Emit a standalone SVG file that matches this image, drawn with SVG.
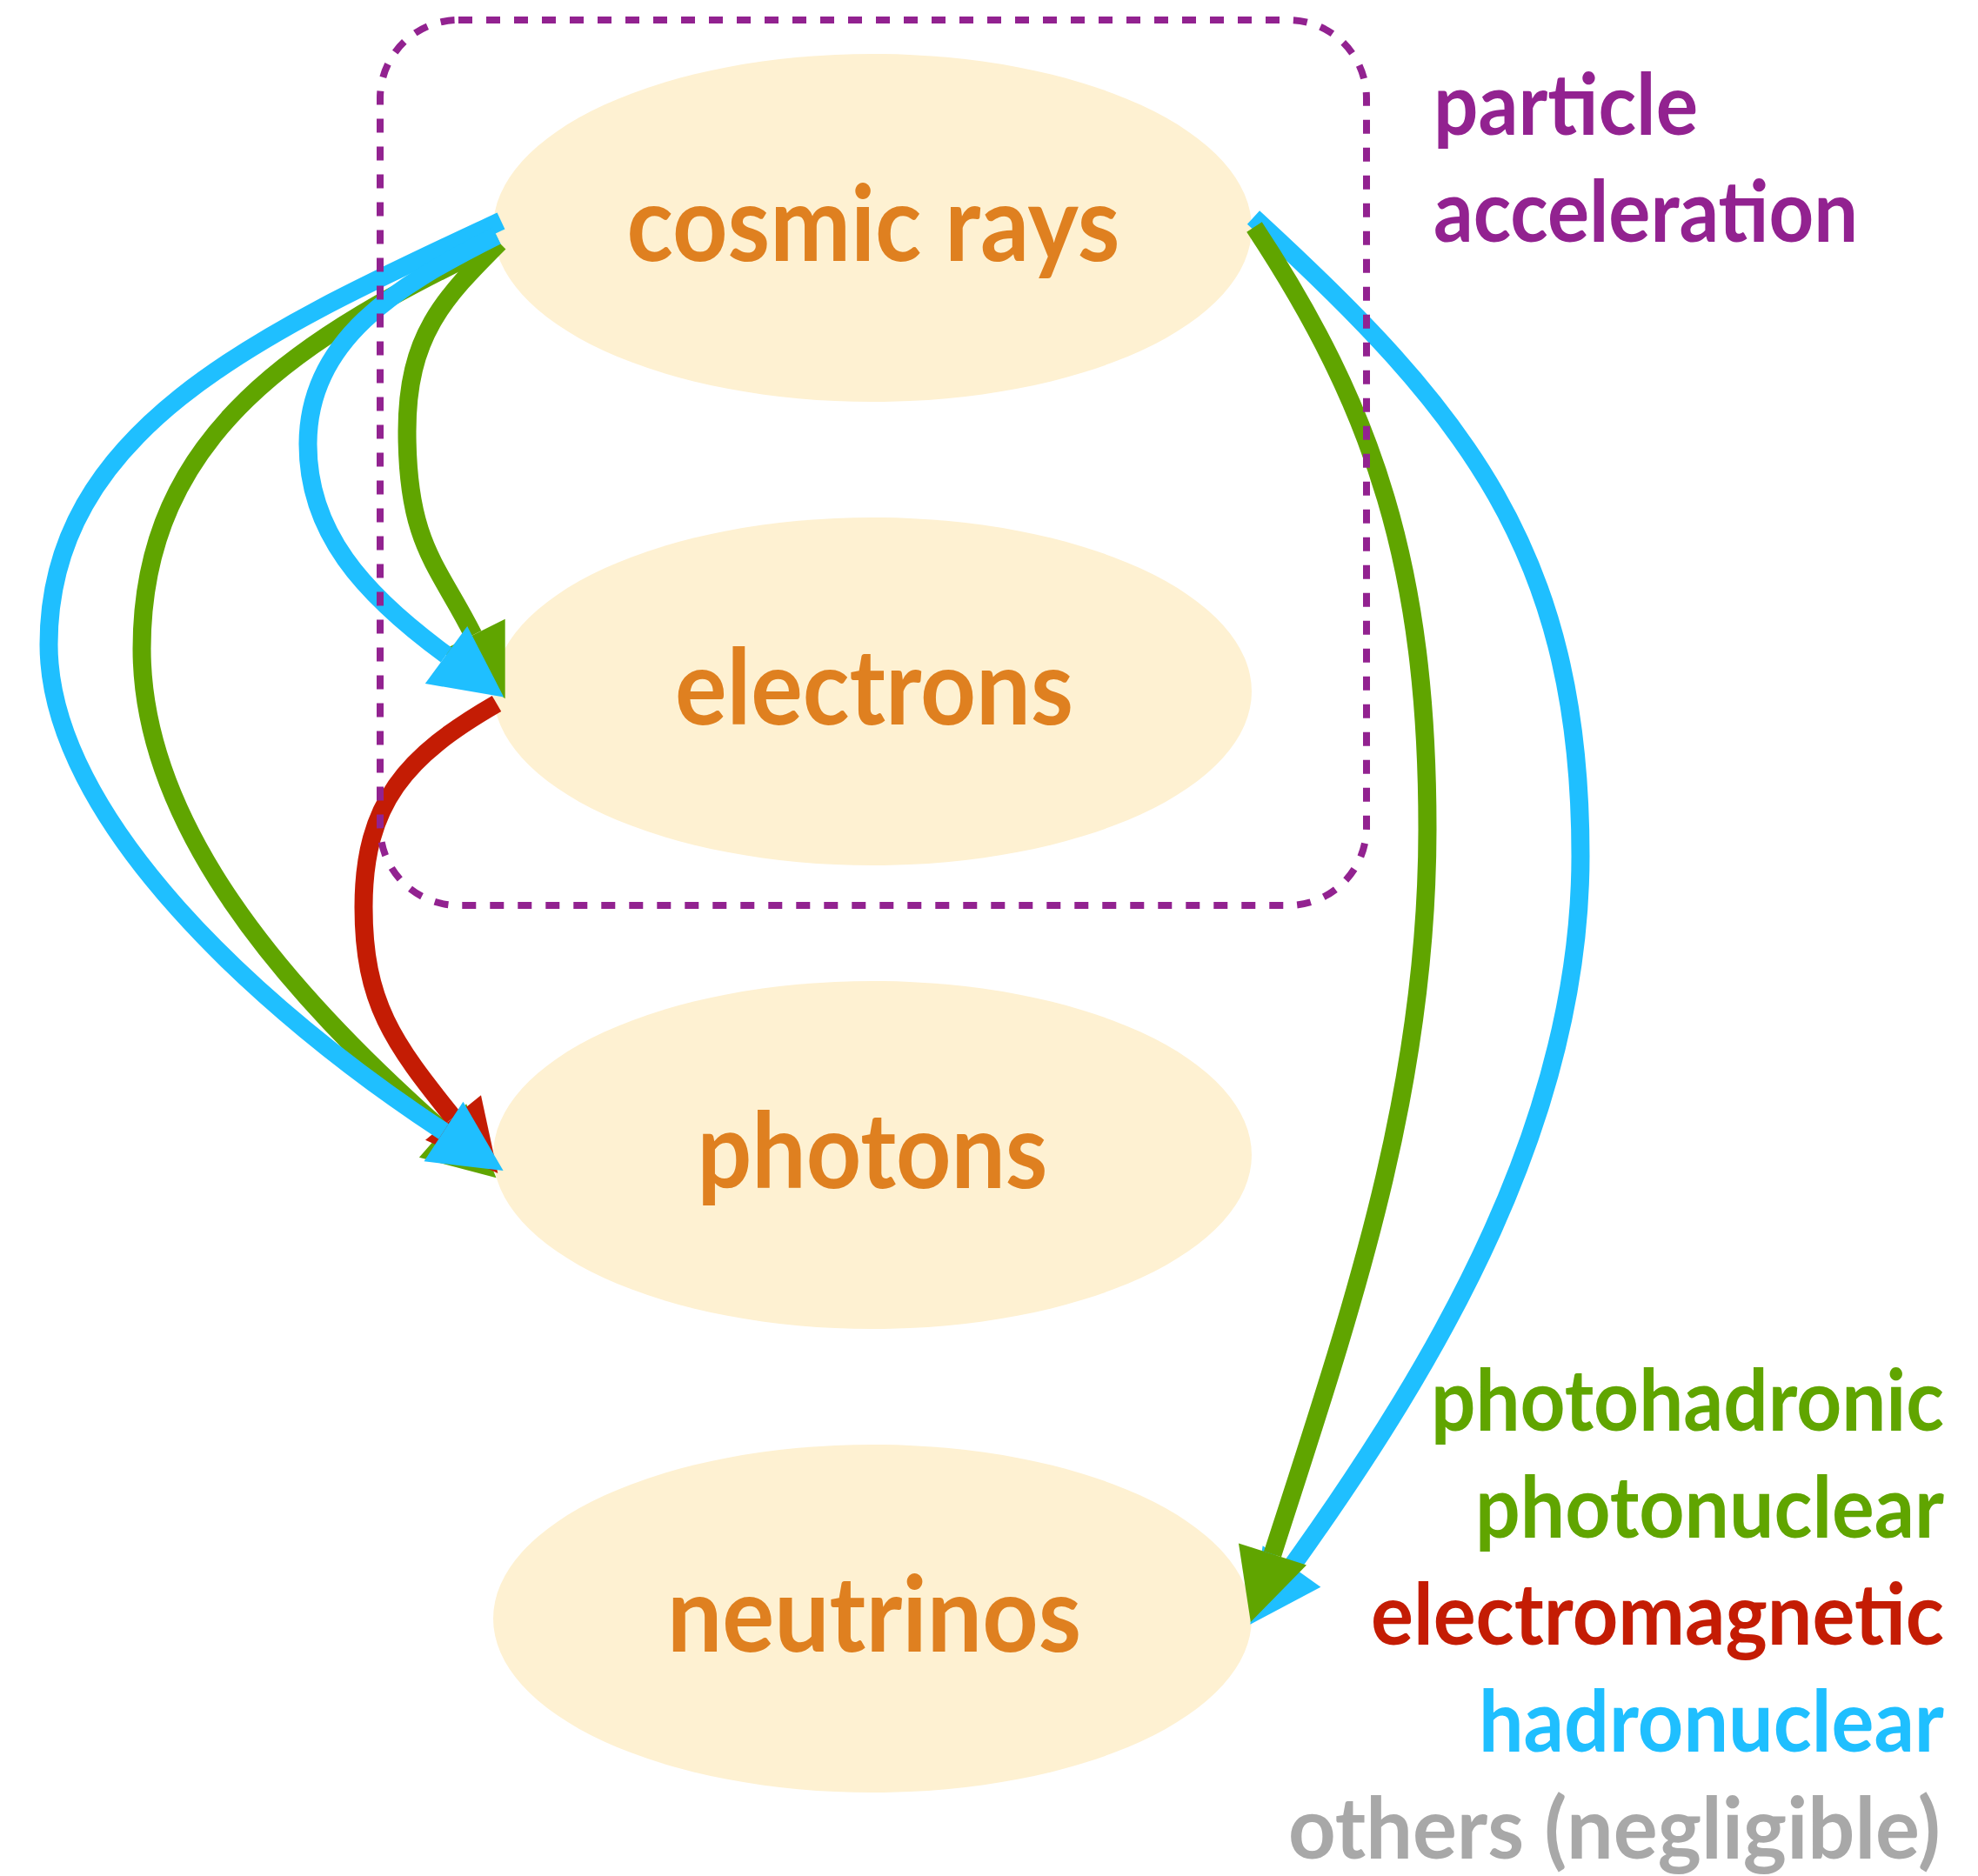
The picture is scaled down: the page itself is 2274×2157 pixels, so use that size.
<svg xmlns="http://www.w3.org/2000/svg" width="2274" height="2157" viewBox="0 0 2274 2157">
<style>
.node ellipse{fill:#FEF1D2}
.node text{font-family:Lato,"Liberation Sans",sans-serif;font-weight:700;font-size:120px;fill:#DF8020;text-anchor:middle}
.edge{fill:none;stroke-width:21;stroke-linecap:butt}
.g{stroke:#60A500}.b{stroke:#1FBFFF}.r{stroke:#C41C04}
.leg{font-family:Lato,"Liberation Sans",sans-serif;font-weight:700;font-size:97px}
</style>
<defs>
<marker id="ag" markerUnits="userSpaceOnUse" markerWidth="82" markerHeight="82" refX="0" refY="41" orient="auto" overflow="visible"><path d="M0,0 L82,41 L0,82 z" fill="#60A500"/></marker>
<marker id="ab" markerUnits="userSpaceOnUse" markerWidth="82" markerHeight="82" refX="0" refY="41" orient="auto" overflow="visible"><path d="M0,0 L82,41 L0,82 z" fill="#1FBFFF"/></marker>
<marker id="ar" markerUnits="userSpaceOnUse" markerWidth="82" markerHeight="82" refX="0" refY="41" orient="auto" overflow="visible"><path d="M0,0 L82,41 L0,82 z" fill="#C41C04"/></marker>
</defs>
<rect width="2274" height="2157" fill="#ffffff"/>
<g id="cosmic-rays" class="node"><ellipse cx="1003" cy="262" rx="436" ry="200"/><text x="1004" y="300" textLength="567" lengthAdjust="spacingAndGlyphs">cosmic rays</text></g>
<g id="electrons" class="node"><ellipse cx="1003" cy="795" rx="436" ry="200"/><text x="1005" y="833" textLength="458" lengthAdjust="spacingAndGlyphs">electrons</text></g>
<g id="photons" class="node"><ellipse cx="1003" cy="1328" rx="436" ry="200"/><text x="1003" y="1366" textLength="403" lengthAdjust="spacingAndGlyphs">photons</text></g>
<g id="neutrinos" class="node"><ellipse cx="1003" cy="1861" rx="436" ry="200"/><text x="1005" y="1899" textLength="476" lengthAdjust="spacingAndGlyphs">neutrinos</text></g>
<g id="connectors">
<path class="edge b" marker-end="url(#ab)" d="M1441,250 C1684,473 1817,634 1817,984 C1817,1284 1659,1558 1485,1801"/>
<path class="edge g" marker-end="url(#ag)" d="M1442,261 C1580,470 1641,653 1641,953 C1641,1253 1555,1502 1463,1787"/>
<path class="edge g" marker-end="url(#ag)" d="M574,278 C349,386 163,496 163,746 C163,946 323,1136 509,1300"/>
<path class="edge g" marker-end="url(#ag)" d="M574,279 C510,343 468,386 468,496 C468,626 504,650 544,730"/>
<path class="edge r" marker-end="url(#ar)" d="M571,809 C467,869 418,923 418,1043 C418,1153 452,1199 521,1285"/>
<path class="edge b" marker-end="url(#ab)" d="M576,254 C304,381 56,491 56,741 C56,941 301,1164 510,1301"/>
<path class="edge b" marker-end="url(#ab)" d="M571,271 C455,329 354,391 354,511 C354,611 416,682 513,753"/>
</g>
<g id="particle-acceleration">
<rect x="437" y="23" width="1134" height="1018" rx="90" ry="90" fill="none" stroke="#922290" stroke-width="8" stroke-dasharray="16 16"/>
<text class="leg" x="1648" y="155" fill="#922290" textLength="304" lengthAdjust="spacingAndGlyphs">particle</text>
<text class="leg" x="1648" y="278" fill="#922290" textLength="488" lengthAdjust="spacingAndGlyphs">acceleration</text>
</g>
<g id="legend" text-anchor="end">
<text class="leg" x="2235" y="1645" fill="#60A500" textLength="590" lengthAdjust="spacingAndGlyphs">photohadronic</text>
<text class="leg" x="2235" y="1768" fill="#60A500" textLength="539" lengthAdjust="spacingAndGlyphs">photonuclear</text>
<text class="leg" x="2235" y="1891" fill="#C41C04" textLength="659" lengthAdjust="spacingAndGlyphs">electromagnetic</text>
<text class="leg" x="2235" y="2014" fill="#1FBFFF" textLength="535" lengthAdjust="spacingAndGlyphs">hadronuclear</text>
<text class="leg" x="2231" y="2137" fill="#A8A8A8" textLength="750" lengthAdjust="spacingAndGlyphs">others (negligible)</text>
</g>
</svg>
